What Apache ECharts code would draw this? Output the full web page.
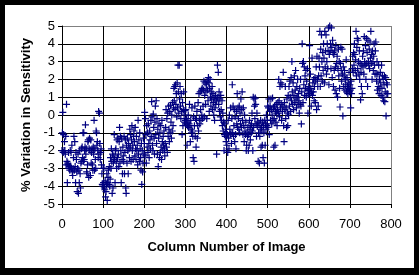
<!DOCTYPE html>
<html><head><meta charset="utf-8">
<script src="https://cdn.jsdelivr.net/npm/echarts@6/dist/echarts.min.js"></script>
<style>
html,body{margin:0;padding:0;background:#000;}
#wrap{position:relative;width:419px;height:275px;background:#000;}
#chart{position:absolute;left:5px;top:5px;width:409px;height:263px;background:#fff;}
</style></head>
<body><div id="wrap"><div id="chart"></div></div>
<script>
const xTicks = [0,100,200,300,400,500,600,700,800];
const yTicks = [-5,-4,-3,-2,-1,0,1,2,3,4,5];
const xTitle = 'Column Number of Image';
const yTitle = '% Variation in Sensitivity';
const firstColumn = 0;
// % variation, one value per column starting at firstColumn
const variation = [
-2.0,-1.0,0.15,-2.1,-1.1,-2.0,-1.5,-2.0,-2.2,-1.2,-2.8,0.6,-2.6,-3.8,-2.7,-2.8,-2.1,-3.0,-2.9,-3.1,-2.0,-2.9,-2.1,-3.0,-1.7,-3.2,
-3.4,-3.0,-2.4,-1.2,-3.1,-1.5,-2.9,-3.8,-2.1,-2.5,-3.2,-4.3,-3.0,-2.2,-4.4,-3.1,-3.8,-2.0,-3.3,-4.1,-2.7,-1.9,-2.6,-1.8,-2.4,
-1.0,-2.6,-1.0,-2.5,-2.0,-1.8,-0.55,-2.2,-1.9,-3.2,-3.3,-2.8,-1.5,-1.4,-3.5,-1.9,-1.3,-2.0,-3.4,-1.4,-2.7,-2.1,-1.9,-2.8,-3.1,
-1.8,-2.2,-0.3,-3.1,-1.9,-2.5,-3.0,-0.9,-1.0,-1.7,-1.5,-2.0,-2.4,0.2,-2.2,0.1,-1.6,-2.5,-2.1,-1.9,-2.8,-3.3,-3.9,-4.0,-3.0,
-3.8,-3.0,-4.1,-4.2,-3.7,-4.6,-4.3,-3.9,-3.3,-4.8,-3.8,-3.5,-3.1,-3.9,-2.9,-4.0,-3.6,-2.4,-3.0,-1.9,-2.6,-4.4,-2.2,-4.1,-2.7,
-2.3,-1.1,-2.5,-3.8,-2.0,-1.9,-2.6,-3.0,-1.4,-2.4,-1.3,-2.2,-2.9,-1.5,-0.7,-2.7,-1.2,-2.0,-3.8,-1.3,-2.5,-3.3,-1.8,-2.3,-2.6,
-1.2,-3.3,-2.1,-1.4,-4.1,-4.4,-1.7,-2.7,-1.3,-2.0,-3.3,-1.6,-1.9,-2.4,-0.8,-1.8,-1.1,-2.6,-1.4,-0.6,-2.0,-1.7,-2.5,-1.2,-0.9,
-1.5,-2.3,-0.7,-1.9,-2.5,-1.2,-2.0,-1.7,-2.8,-0.3,-2.2,-1.4,-2.6,-1.0,-1.9,-2.4,-3.1,-1.6,-3.9,-2.0,-3.2,-2.7,-1.3,-2.2,-1.6,
0.15,-2.3,-0.2,-1.1,-2.7,-0.6,-1.8,-1.0,-2.1,-0.5,-1.6,-2.4,-0.9,-1.4,-1.9,-0.3,-1.2,0.75,-0.1,-1.7,-2.0,0.05,-0.7,-1.3,-2.2,
-0.4,0.5,-1.1,0.8,-1.6,-0.2,-2.2,-0.8,-2.9,-1.3,-0.5,-2.4,-1.0,-2.1,-0.6,-1.8,-2.5,-0.3,-1.5,-2.0,-1.2,-1.7,-0.9,-1.9,-2.3,
-1.6,-0.7,0.3,-1.8,-0.2,-2.1,0.1,-1.2,0.5,-0.8,-1.5,0.2,-1.0,0.55,-0.4,-1.3,0.0,-0.9,0.7,-0.6,0.4,1.5,0.8,1.6,0.3,
1.7,0.6,1.2,-0.1,1.8,0.4,2.8,1.3,0.1,2.8,0.9,1.6,0.5,-0.2,1.2,0.2,-1.1,0.7,-0.6,0.3,1.3,0.0,-0.4,0.25,-0.3,
0.3,-0.5,-0.2,-1.7,-0.6,-0.4,0.0,-0.7,-0.5,0.6,-0.6,-1.5,-0.3,-0.8,-1.0,0.4,-0.9,-1.2,-2.4,-0.1,-2.6,-0.6,0.5,-1.2,-0.2,
-1.8,-0.3,0.2,-1.3,-0.6,0.7,-0.9,1.2,-0.2,-0.5,1.3,0.3,-0.3,1.4,0.0,1.5,-0.2,0.5,1.4,1.9,-0.1,1.1,1.8,0.6,1.3,
1.7,-0.2,1.9,1.4,0.8,2.1,1.8,0.2,1.5,2.0,1.0,0.5,1.3,0.9,1.6,0.3,1.2,0.7,0.0,0.9,-0.3,0.4,1.1,0.6,0.8,
-2.2,0.9,2.8,1.0,2.4,0.6,1.3,0.2,0.9,-0.1,1.1,0.3,-0.3,0.8,-0.6,0.1,-0.9,-0.4,-2.0,-1.1,-0.5,-1.2,-0.8,-1.5,-1.0,
-1.7,-1.1,-2.1,-0.3,-1.3,-1.9,0.0,-0.8,-1.1,0.4,-1.0,-1.6,-0.2,1.7,-1.0,0.5,-1.2,-0.6,0.3,-1.5,-0.1,-1.1,-1.9,0.2,-0.5,
1.2,-0.7,0.4,-0.2,-0.8,0.5,-1.0,0.1,-0.5,0.9,-0.7,0.3,1.3,-0.3,-1.1,0.4,-0.6,-1.5,0.0,-0.9,-1.1,-0.4,-2.0,-1.7,-1.0,
-1.2,-0.7,-2.0,-1.1,-1.7,-0.3,-0.8,-1.4,-0.6,-1.0,-0.5,0.1,-0.9,-2.0,1.0,-0.7,0.9,0.5,-0.2,0.95,0.6,-0.5,-1.2,0.1,-0.6,
-0.4,-2.6,-1.0,-0.5,-2.7,-1.2,-0.8,-0.3,-1.8,-0.7,-0.9,-1.7,-0.4,-2.4,-0.6,-1.0,-2.7,-0.3,-1.7,-0.5,-0.8,0.0,-0.6,-0.3,0.5,
-0.7,0.4,0.9,-1.1,0.2,0.5,-0.3,0.9,0.3,-0.5,0.0,0.95,-0.3,0.4,-1.8,-0.2,0.5,-1.7,0.2,-0.4,0.6,0.1,-0.6,0.3,0.7,
0.1,2.0,0.8,-0.1,1.6,0.4,1.8,0.6,-0.3,1.7,0.2,0.5,2.4,-0.6,-1.5,0.7,0.3,1.6,-0.2,0.4,-0.7,0.9,0.1,-0.6,1.1,
0.0,1.6,0.5,1.9,1.0,0.2,2.1,0.8,3.0,1.3,0.6,1.8,0.3,1.1,2.2,0.7,1.4,2.5,0.9,0.4,1.6,1.0,2.0,0.6,1.2,
0.8,0.1,1.5,0.6,2.0,0.5,-0.5,1.3,4.0,2.9,0.7,3.0,1.7,2.7,1.1,2.2,1.5,2.5,1.0,1.9,1.4,2.6,0.1,1.2,1.6,
1.4,3.9,1.2,2.3,1.5,0.5,1.3,3.2,1.1,1.8,1.3,2.0,0.8,1.6,2.1,0.7,1.9,2.7,0.3,3.3,2.0,1.6,0.5,2.2,3.2,
2.7,4.7,1.6,3.7,2.2,4.5,3.0,1.9,3.5,2.5,4.0,3.2,1.8,4.7,2.7,3.6,4.5,2.3,3.0,4.0,2.6,3.6,4.9,1.7,3.4,
5.0,3.6,4.0,2.6,4.9,3.8,2.1,4.2,3.5,1.6,3.4,2.5,3.6,1.4,2.7,3.9,1.2,2.9,3.3,1.0,2.6,3.7,2.2,3.0,1.5,
0.45,2.9,3.8,2.5,1.9,3.7,2.3,-0.05,2.7,1.6,2.2,2.5,1.4,2.0,1.7,3.1,1.3,2.1,1.6,1.2,1.8,1.5,2.4,1.3,1.7,
1.4,0.4,1.9,1.2,1.5,2.6,3.3,2.4,3.5,2.8,4.0,3.4,2.5,3.1,4.7,2.2,3.8,4.3,2.6,4.2,3.0,2.3,3.6,2.0,2.9,
0.85,2.4,1.6,2.8,1.2,3.3,2.7,3.6,2.3,4.4,3.0,2.8,3.9,2.0,4.3,2.9,3.5,1.6,4.2,3.0,2.8,3.7,2.6,4.1,3.2,
4.7,2.9,3.4,2.0,3.6,3.0,2.5,3.3,4.0,2.8,2.3,3.6,4.1,2.3,1.9,3.0,1.4,2.3,1.6,2.8,1.2,2.0,1.5,2.4,1.8,
1.1,2.8,1.5,2.2,1.0,2.0,0.8,1.7,2.2,0.75,1.3,2.1,-0.05,1.8,1.2,1.7,1.2
];
const points = variation.map((v, i) => [firstColumn + i, v]);

const font = "'Liberation Sans Narrow','Liberation Sans',Arial,sans-serif";
const chart = echarts.init(document.getElementById('chart'), null, {renderer:'canvas'});
const yGridColors = yTicks.map((t, i) => i === yTicks.length - 1 ? '#808080' : '#000000');
const xGridColors = xTicks.map((t, i) => i === xTicks.length - 1 ? '#808080' : '#000000');
chart.setOption({
  animation: false,
  backgroundColor: '#ffffff',
  grid: {left: 57, top: 21, width: 329, height: 178, containLabel: false},
  xAxis: {
    type: 'value', min: xTicks[0], max: xTicks[xTicks.length-1], interval: 100,
    name: xTitle, nameLocation: 'middle', nameGap: 37,
    nameTextStyle: {fontFamily: 'Liberation Sans, Arial, sans-serif', fontWeight: 'bold', fontSize: 13, color: '#000'},
    axisLine: {show: true, onZero: false, lineStyle: {color: '#000', width: 1}},
    axisTick: {show: true, length: 4, inside: false, lineStyle: {color: '#000'}},
    axisLabel: {margin: 14, fontFamily: font, fontSize: 13, color: '#000'},
    splitLine: {show: true, lineStyle: {color: xGridColors, width: 1}}
  },
  yAxis: {
    type: 'value', min: yTicks[0], max: yTicks[yTicks.length-1], interval: 1,
    name: yTitle, nameLocation: 'middle', nameGap: 25, nameRotate: 90,
    nameTextStyle: {fontFamily: 'Liberation Sans, Arial, sans-serif', fontWeight: 'bold', fontSize: 13, color: '#000'},
    axisLine: {show: true, onZero: false, lineStyle: {color: '#000', width: 1}},
    axisTick: {show: true, length: 4, inside: false, lineStyle: {color: '#000'}},
    axisLabel: {margin: 7, fontFamily: font, fontSize: 13, color: '#000'},
    splitLine: {show: true, lineStyle: {color: yGridColors, width: 1}}
  },
  series: [{
    type: 'scatter',
    data: points,
    symbol: 'path://M0,2.9H2.9V0H4.1V2.9H7V4.1H4.1V7H2.9V4.1H0Z',
    symbolSize: 7,
    itemStyle: {color: '#000080', opacity: 1},
    silent: true
  }]
});
</script></body></html>
